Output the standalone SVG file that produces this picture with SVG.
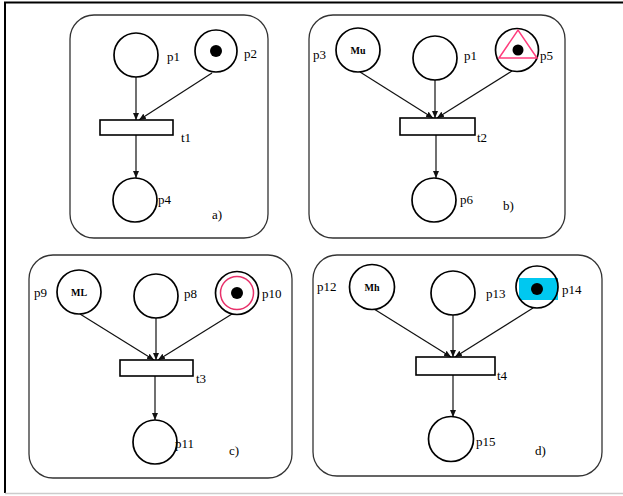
<svg xmlns="http://www.w3.org/2000/svg" width="623" height="496" viewBox="0 0 623 496">
<style>
.panel{fill:none;stroke:#333;stroke-width:1.3}
.pl{fill:#fff;stroke:#000;stroke-width:1.7}
.ol{fill:none;stroke:#000;stroke-width:1.7}
.tr{fill:#fff;stroke:#000;stroke-width:1.6}
.tok{fill:#000}
.arc{stroke:#111;stroke-width:1.2;fill:none;marker-end:url(#ah)}
.lb{font-family:"Liberation Serif",serif;font-size:13px;fill:#000}
.in{font-family:"Liberation Serif",serif;font-size:10px;font-weight:bold;fill:#000}
</style>
<defs>
<marker id="ah" markerWidth="8" markerHeight="8" refX="7" refY="4" orient="auto" markerUnits="userSpaceOnUse">
<path d="M0,1 L7,4 L0,7 Z" fill="#111"/>
</marker>
</defs>
<rect x="0" y="0" width="623" height="496" fill="#fff"/>
<g id="frame">
<line x1="4" y1="2.5" x2="623" y2="2.5" stroke="#000" stroke-width="2"/>
<line x1="5" y1="2" x2="5" y2="493" stroke="#000" stroke-width="2"/>
<line x1="5" y1="493.5" x2="623" y2="493.5" stroke="#ccc" stroke-width="1.5"/>
</g>
<g id="panels">
<rect class="panel" x="70" y="15" width="198" height="223" rx="24"/>
<rect class="panel" x="309" y="15" width="256" height="223" rx="24"/>
<rect class="panel" x="29" y="255" width="263" height="223" rx="24"/>
<rect class="panel" x="313" y="255" width="289" height="221" rx="24"/>
</g>
<g id="connectors">
<line class="arc" x1="136" y1="77" x2="136" y2="120"/>
<line class="arc" x1="212" y1="73" x2="139" y2="120"/>
<line class="arc" x1="136" y1="135" x2="136" y2="178"/>
<line class="arc" x1="360" y1="72" x2="433" y2="118"/>
<line class="arc" x1="435" y1="80" x2="435" y2="118"/>
<line class="arc" x1="512" y1="71" x2="437" y2="118"/>
<line class="arc" x1="436" y1="135" x2="436" y2="178"/>
<line class="arc" x1="80" y1="314" x2="154" y2="360"/>
<line class="arc" x1="156" y1="318" x2="156" y2="360"/>
<line class="arc" x1="232" y1="314" x2="158" y2="360"/>
<line class="arc" x1="155" y1="376" x2="155" y2="420"/>
<line class="arc" x1="374" y1="309" x2="451" y2="357"/>
<line class="arc" x1="453" y1="315" x2="453" y2="357"/>
<line class="arc" x1="533" y1="308" x2="455" y2="357"/>
<line class="arc" x1="453" y1="375" x2="453" y2="417"/>
</g>
<g id="a_p1"><circle class="pl" cx="136" cy="55" r="22"/><text class="lb" x="167" y="61">p1</text></g>
<g id="a_p2"><circle class="pl" cx="216" cy="51" r="21"/><circle class="tok" cx="216" cy="51" r="6"/><text class="lb" x="244" y="58">p2</text></g>
<g id="a_t1"><rect class="tr" x="100" y="120" width="73" height="15"/><text class="lb" x="181" y="142">t1</text></g>
<g id="a_p4"><circle class="pl" cx="135" cy="200" r="22"/><text class="lb" x="158" y="204">p4</text></g>
<g id="a_label"><text class="lb" x="212" y="219">a)</text></g>

<g id="b_p3"><circle class="pl" cx="358" cy="50" r="22"/><text class="in" x="358" y="54" text-anchor="middle">Mu</text><text class="lb" x="313" y="59">p3</text></g>
<g id="b_p1"><circle class="pl" cx="435" cy="58" r="22"/><text class="lb" x="464" y="60">p1</text></g>
<g id="b_p5"><circle class="pl" cx="517" cy="50" r="21.5"/><polygon points="499,58 518,30 537,58" fill="none" stroke="#ff3c7c" stroke-width="1.5"/><circle class="tok" cx="518" cy="50" r="5.5"/><text class="lb" x="540" y="60">p5</text></g>
<g id="b_t2"><rect class="tr" x="400" y="118" width="75" height="17"/><text class="lb" x="477" y="142">t2</text></g>
<g id="b_p6"><circle class="pl" cx="434" cy="200" r="22"/><text class="lb" x="460" y="204">p6</text></g>
<g id="b_label"><text class="lb" x="503" y="210">b)</text></g>

<g id="c_p9"><circle class="pl" cx="79" cy="292" r="22"/><text class="in" x="79" y="296" text-anchor="middle">ML</text><text class="lb" x="34" y="297">p9</text></g>
<g id="c_p8"><circle class="pl" cx="156" cy="296" r="22"/><text class="lb" x="184" y="298">p8</text></g>
<g id="c_p10"><circle class="pl" cx="237" cy="293" r="21.5"/><circle cx="237" cy="293" r="16.5" fill="none" stroke="#e8306a" stroke-width="1.5"/><circle class="tok" cx="237" cy="293" r="6"/><text class="lb" x="262" y="298">p10</text></g>
<g id="c_t3"><rect class="tr" x="120" y="360" width="73" height="16"/><text class="lb" x="196" y="383">t3</text></g>
<g id="c_p11"><circle class="pl" cx="155" cy="442" r="22"/><text class="lb" x="175" y="448">p11</text></g>
<g id="c_label"><text class="lb" x="229" y="455">c)</text></g>

<g id="d_p12"><circle class="pl" cx="372" cy="287" r="22.5"/><text class="in" x="372" y="291" text-anchor="middle">Mh</text><text class="lb" x="317" y="291">p12</text></g>
<g id="d_p13"><circle class="pl" cx="453" cy="293" r="22"/><text class="lb" x="486" y="298">p13</text></g>
<g id="d_p14"><circle cx="537" cy="287" r="21" fill="#fff"/><rect x="519" y="278" width="39" height="22" fill="#00c8f0"/><circle class="ol" cx="537" cy="287" r="21"/><circle class="tok" cx="537" cy="289" r="6"/><text class="lb" x="562" y="294">p14</text></g>
<g id="d_t4"><rect class="tr" x="416" y="357" width="79" height="18"/><text class="lb" x="497" y="380">t4</text></g>
<g id="d_p15"><circle class="pl" cx="451" cy="439" r="22.5"/><text class="lb" x="476" y="446">p15</text></g>
<g id="d_label"><text class="lb" x="535" y="455">d)</text></g>
</svg>
